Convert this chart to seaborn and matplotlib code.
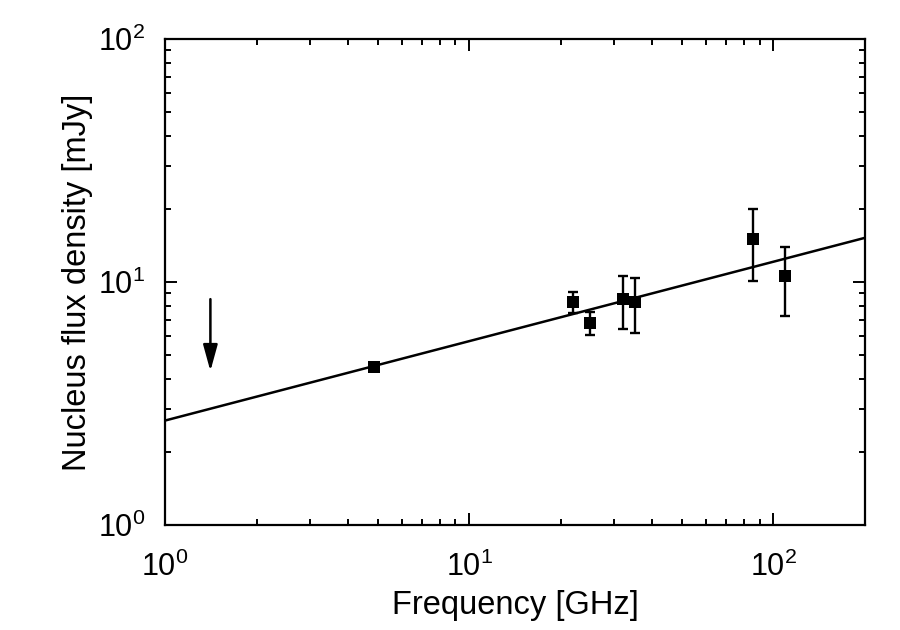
import matplotlib
matplotlib.use("Agg")
import matplotlib.pyplot as plt
import matplotlib.ticker as mticker
import seaborn as sns
import pandas as pd
import numpy as np

# Data
freq = [4.86, 22.0, 24.9, 32.1, 35.0, 85.9, 109.4]          # GHz
flux = [4.47, 8.25, 6.78, 8.49, 8.27, 15.1, 10.55]          # mJy
flux_lo = [4.35, 7.47, 6.07, 6.39, 6.17, 10.1, 7.27]
flux_hi = [4.62, 9.10, 7.53, 10.6, 10.4, 20.0, 13.9]

fit_freq = [1.0, 200.0]
fit_flux = [2.69, 15.2]

limit_freq = [1.41]
limit_top = [8.5]
limit_tip = [4.3]

sns.set_style("ticks")
plt.rcParams['font.family'] = ['Liberation Sans', 'DejaVu Sans']
plt.rcParams['mathtext.fontset'] = 'custom'
plt.rcParams['mathtext.rm'] = 'Liberation Sans'
plt.rcParams['mathtext.it'] = 'Liberation Sans:italic'
plt.rcParams['mathtext.bf'] = 'Liberation Sans:bold'
plt.rcParams['mathtext.default'] = 'regular'
for k in ['text.color', 'axes.labelcolor', 'xtick.color', 'ytick.color', 'axes.edgecolor']:
    plt.rcParams[k] = 'black'

fig = plt.figure(figsize=(9, 6.3), dpi=100)
ax = fig.add_axes([165/900, 1-525/630, 700/900, 486/630])

df = pd.DataFrame({"freq": freq, "flux": flux})
fit_df = pd.DataFrame({"freq": fit_freq, "flux": fit_flux})

sns.lineplot(data=fit_df, x="freq", y="flux", ax=ax, color="black", lw=1.8)

yerr = [np.array(flux) - np.array(flux_lo), np.array(flux_hi) - np.array(flux)]
ax.errorbar(freq, flux, yerr=yerr, fmt="none", ecolor="black", elinewidth=1.7,
            capsize=3.5, capthick=1.7, zorder=3)
sns.scatterplot(data=df, x="freq", y="flux", ax=ax, marker="s", s=85,
                color="black", edgecolor="black", linewidth=0, zorder=4)

for f, t, b in zip(limit_freq, limit_top, limit_tip):
    ax.annotate("", xy=(f, b), xytext=(f, t),
                arrowprops=dict(arrowstyle="-|>,head_length=0.8,head_width=0.22",
                                mutation_scale=20, color="black", lw=1.8,
                                shrinkA=0, shrinkB=0))

ax.set_xscale("log")
ax.set_yscale("log")
ax.set_xlim(1, 200)
ax.set_ylim(1, 100)

ax.xaxis.set_major_locator(mticker.LogLocator(base=10))
ax.xaxis.set_minor_locator(mticker.LogLocator(base=10, subs=np.arange(2, 10)))
ax.yaxis.set_major_locator(mticker.LogLocator(base=10))
ax.yaxis.set_minor_locator(mticker.LogLocator(base=10, subs=np.arange(2, 10)))
ax.xaxis.set_minor_formatter(mticker.NullFormatter())
ax.yaxis.set_minor_formatter(mticker.NullFormatter())

ax.tick_params(which="both", direction="in", top=True, right=True, colors="black",
               labelsize=22)
ax.tick_params(which="major", length=8.5, width=1.4)
ax.tick_params(which="minor", length=4.5, width=1.4)
ax.tick_params(axis="x", which="major", pad=19)
ax.tick_params(axis="y", which="major", pad=14)

for sp in ax.spines.values():
    sp.set_linewidth(1.6)
    sp.set_color("black")

ax.set_xlabel("Frequency [GHz]", fontsize=23.5, labelpad=5)
ax.set_ylabel("Nucleus flux density [mJy]", fontsize=23.5, labelpad=4)

fig.savefig("out.png", dpi=100)
